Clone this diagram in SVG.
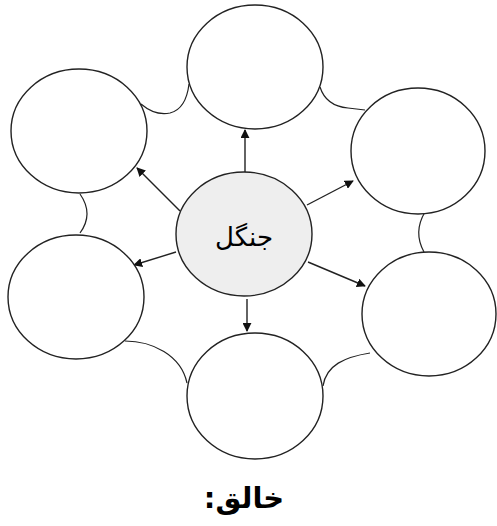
<svg xmlns="http://www.w3.org/2000/svg" width="497" height="526" viewBox="0 0 497 526">
<style>
.n{fill:#fff;stroke:#222;stroke-width:1.4}
.c{fill:#eeeeee;stroke:#222;stroke-width:1.4}
.a{fill:none;stroke:#222;stroke-width:1.4}
.l{fill:none;stroke:#222;stroke-width:1.2}
.t{font-family:"DejaVu Sans",sans-serif;fill:#000;text-anchor:middle}
</style>
<defs>
<marker id="ah" viewBox="0 0 10 10" refX="9" refY="5" markerWidth="9" markerHeight="9" markerUnits="userSpaceOnUse" orient="auto">
<path d="M0,0 L10,5 L0,10 z" fill="#111"/>
</marker>
</defs>
<rect width="497" height="526" fill="#fff"/>
<g id="links">
<path class="l" d="M141,104 Q155,116 170,113 Q186,109 189,84"/>
<path class="l" d="M320,87 Q326,106 348,108 L365,110"/>
<path class="l" d="M425,212 Q413,232 424,252"/>
<path class="l" d="M80,194 Q94,214 80,233"/>
<path class="l" d="M125,341 C152,341 181,355 187,383"/>
<path class="l" d="M323,386 C326,365 345,357 370,353"/>
</g>
<g id="connectors">
<line class="a" x1="245" y1="173" x2="245" y2="130" marker-end="url(#ah)"/>
<line class="a" x1="180" y1="211" x2="137" y2="168" marker-end="url(#ah)"/>
<line class="a" x1="307" y1="205" x2="353" y2="181" marker-end="url(#ah)"/>
<line class="a" x1="176" y1="252" x2="134" y2="265" marker-end="url(#ah)"/>
<line class="a" x1="308" y1="262" x2="365" y2="286" marker-end="url(#ah)"/>
<line class="a" x1="247" y1="299" x2="247" y2="331" marker-end="url(#ah)"/>
</g>
<g id="node-top"><ellipse class="n" cx="255" cy="67" rx="68" ry="62"/></g>
<g id="node-top-left"><ellipse class="n" cx="79" cy="131" rx="68" ry="62"/></g>
<g id="node-top-right"><ellipse class="n" cx="418" cy="151" rx="67" ry="63"/></g>
<g id="node-left"><ellipse class="n" cx="76" cy="297" rx="68" ry="62"/></g>
<g id="node-right"><ellipse class="n" cx="429" cy="314" rx="67" ry="62"/></g>
<g id="node-bottom"><ellipse class="n" cx="255" cy="396" rx="68" ry="63"/></g>
<g id="node-center">
<ellipse class="c" cx="244" cy="234" rx="68" ry="62"/>
<text class="t" x="244" y="246" font-size="26" direction="rtl">جنگل</text>
</g>
<g id="title">
<text class="t" x="244" y="508" font-size="29" font-weight="bold" direction="rtl">خالق:</text>
</g>
</svg>
